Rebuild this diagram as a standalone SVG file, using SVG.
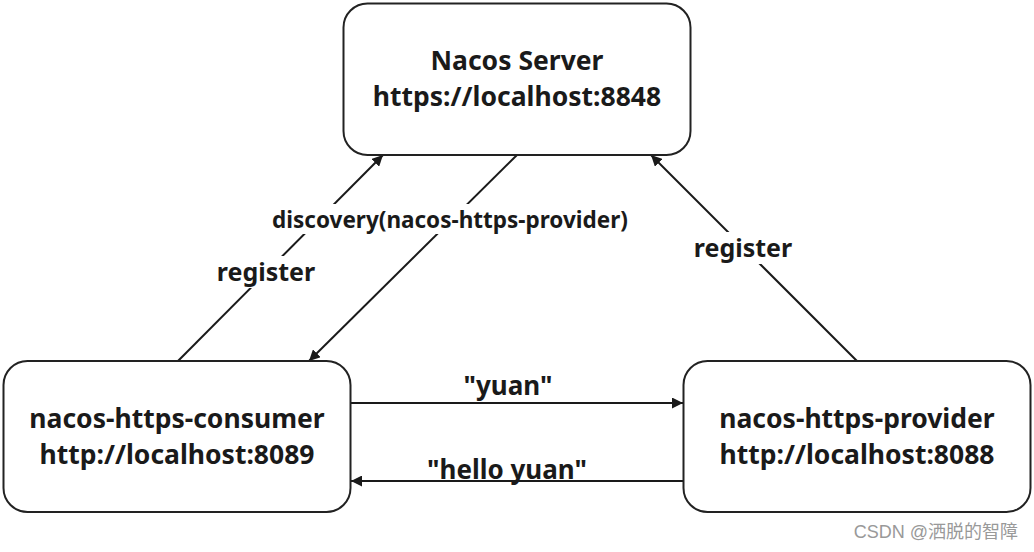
<svg xmlns="http://www.w3.org/2000/svg" width="1034" height="552" viewBox="0 0 1034 552">
<defs>
<marker id="arr" viewBox="0 0 10 10" refX="10" refY="5" markerWidth="11" markerHeight="11" markerUnits="userSpaceOnUse" orient="auto">
<path d="M0,0 L10,5 L0,10 Z" fill="#1a1a1a"/>
</marker>
<style>
.box{fill:#fff;stroke:#222;stroke-width:2}
.t{font-family:"Noto Sans","Open Sans",sans-serif;font-weight:bold;font-size:26.5px;fill:#1a1a1a;text-anchor:middle}
.l{font-family:"Noto Sans","Open Sans",sans-serif;font-weight:bold;fill:#1a1a1a;text-anchor:middle}
.c{stroke:#1a1a1a;stroke-width:2;fill:none;marker-end:url(#arr)}
.bg{fill:#fff}
</style>
</defs>
<rect width="1034" height="552" fill="#fff"/>
<g id="connectors">
<line class="c" x1="178" y1="361" x2="383" y2="155"/>
<line class="c" x1="517" y1="155" x2="309" y2="361"/>
<line class="c" x1="857" y1="361" x2="651" y2="155"/>
<line class="c" x1="351" y1="403" x2="683" y2="403"/>
<line class="c" x1="683" y1="481" x2="351" y2="481"/>
<rect class="bg" x="270" y="204" width="362" height="30"/>
<rect class="bg" x="213" y="256" width="106" height="32"/>
<rect class="bg" x="690" y="232" width="106" height="32"/>
<text class="l" x="450" y="228" font-size="22.5">discovery(nacos-https-provider)</text>
<text class="l" x="266" y="281" font-size="25">register</text>
<text class="l" x="743" y="257" font-size="25">register</text>
<text class="l" x="508" y="395" font-size="26">"yuan"</text>
<text class="l" x="507" y="479" font-size="26">"hello yuan"</text>
</g>
<g id="nacos-server">
<rect class="box" x="343.5" y="3.5" width="347" height="151.5" rx="24"/>
<text class="t" x="517" y="70">Nacos Server</text>
<text class="t" x="517" y="106">https://localhost:8848</text>
</g>
<g id="consumer">
<rect class="box" x="3.5" y="361" width="347" height="151" rx="24"/>
<text class="t" x="177" y="428">nacos-https-consumer</text>
<text class="t" x="177" y="464">http://localhost:8089</text>
</g>
<g id="provider">
<rect class="box" x="683.5" y="361" width="347" height="151" rx="24"/>
<text class="t" x="857" y="428">nacos-https-provider</text>
<text class="t" x="857" y="464">http://localhost:8088</text>
</g>
<text x="1018" y="538" text-anchor="end" font-family="'Liberation Sans','Noto Sans CJK SC',sans-serif" font-size="18" fill="#999">CSDN @洒脱的智障</text>
</svg>
